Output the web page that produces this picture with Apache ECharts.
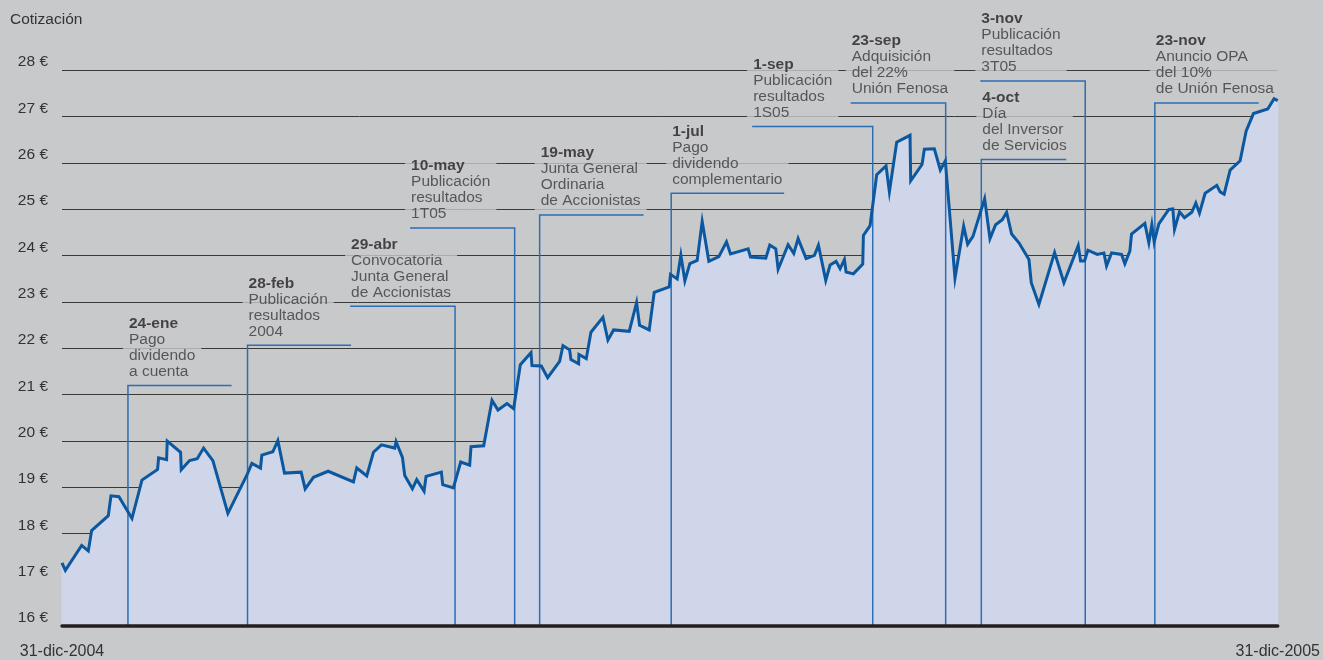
<!DOCTYPE html>
<html>
<head>
<meta charset="utf-8">
<script src="https://cdn.jsdelivr.net/npm/echarts@6/dist/echarts.min.js"></script>
<style>
html,body{margin:0;padding:0;background:#c8c9cb;}
#chart{width:1323px;height:660px;}
</style>
</head>
<body>
<div id="chart"></div>
<script>
// Day offset since 31-dic-2004 (0..365)
var days = [0,1,5.9,7.9,8.9,13.9,14.7,17.1,21.0,24.0,
28.7,29.0,31.4,31.6,35.6,35.8,38.3,40.6,42.5,45.3,
49.8,55.6,57.0,59.6,60.0,63.3,64.8,66.8,71.8,73.0,
75.5,79.9,87.5,88.5,91.5,93.5,95.9,99.9,100.3,102.2,
102.9,105.2,106.5,108.7,109.3,113.9,114.3,117.5,119.7,122.4,
122.8,126.6,129.1,130.9,133.6,135.6,137.6,140.8,141.1,143.9,
145.8,149.4,150.4,152.4,152.8,155.1,155.2,157.4,158.8,162.4,
163.9,165.6,170.3,172.5,173.4,176.3,177.8,182.3,182.7,184.7,
185.8,187.0,188.5,190.7,192.2,194.2,197.2,199.5,200.7,206.0,
206.7,211.3,212.5,214.3,215.0,218.0,219.7,221.0,223.4,225.9,
227.1,229.3,230.6,232.4,233.6,234.9,235.4,237.6,240.4,240.6,
242.6,244.6,247.4,248.4,250.6,254.6,254.8,258.2,258.9,261.9,
263.7,265.2,268.1,270.7,271.9,273.5,277.0,278.6,280.3,282.3,
283.6,285.1,287.3,290.3,291.0,293.3,298.0,300.8,305.1,305.8,
307.0,308.0,310.8,312.8,313.6,315.1,318.1,319.1,320.6,321.1,
325.1,326.3,327.2,327.9,329.3,332.3,333.5,334.0,335.5,337.0,
339.2,340.4,341.5,343.2,346.7,347.7,348.9,350.7,353.7,355.5,
357.7,362.0,363.9,365];

var prices = [17.36,17.20,17.74,17.62,18.06,18.38,18.81,18.79,18.32,19.15,
19.38,19.63,19.59,19.99,19.75,19.37,19.57,19.61,19.84,19.57,
18.43,19.27,19.51,19.41,19.69,19.76,20.00,19.30,19.32,18.96,
19.21,19.34,19.11,19.41,19.24,19.75,19.91,19.84,19.98,19.64,
19.25,18.96,19.16,18.91,19.23,19.32,19.05,18.98,19.54,19.47,
19.87,19.89,20.87,20.66,20.80,20.69,21.64,21.90,21.62,21.61,
21.36,21.71,22.05,21.96,21.75,21.66,21.86,21.77,22.34,22.66,
22.17,22.39,22.36,22.98,22.49,22.39,23.20,23.32,23.59,23.49,
24.00,23.45,23.82,23.89,24.73,23.87,23.97,24.29,24.03,24.14,
23.96,23.94,24.22,24.14,23.70,24.23,24.04,24.36,23.93,24.00,
24.22,23.46,23.79,23.87,23.71,23.91,23.64,23.60,23.81,24.43,
24.64,25.74,25.93,25.37,26.44,26.59,25.61,25.96,26.29,26.30,
25.84,26.04,23.51,24.63,24.24,24.41,25.22,24.36,24.66,24.77,
24.93,24.46,24.27,23.91,23.41,22.94,24.06,23.41,24.21,23.88,
23.88,24.11,24.02,24.05,23.77,24.05,24.02,23.82,24.09,24.46,
24.69,24.27,24.66,24.29,24.68,24.99,25.00,24.56,24.94,24.81,
24.93,25.13,24.91,25.34,25.51,25.37,25.32,25.84,26.04,26.68,
27.06,27.16,27.38,27.34];

var xTickLabels = ['31-dic-2004', '31-dic-2005'];
var yTicks = [17, 18, 19, 20, 21, 22, 23, 24, 25, 26, 27, 28];

var eventDates = ['24-ene','28-feb','29-abr','10-may','19-may','1-jul','1-sep','23-sep','4-oct','3-nov','23-nov'];
var eventDays = [19.8, 55.7, 118.0, 135.9, 143.4, 182.9, 243.4, 265.3, 276.0, 307.2, 328.1];
var eventArmEnds = [50.9, 86.8, 86.5, 104.5, 174.6, 216.8, 207.2, 236.8, 301.5, 275.7, 359.3];
var eventLevels = [21.19, 22.06, 22.90, 24.59, 24.87, 25.34, 26.78, 27.29, 26.07, 27.76, 27.29];
var eventTexts = [
  ['Pago','dividendo','a cuenta'],
  ['Publicación','resultados','2004'],
  ['Convocatoria','Junta General','de Accionistas'],
  ['Publicación','resultados','1T05'],
  ['Junta General','Ordinaria','de Accionistas'],
  ['Pago','dividendo','complementario'],
  ['Publicación','resultados','1S05'],
  ['Adquisición','del 22%','Unión Fenosa'],
  ['Día','del Inversor','de Servicios'],
  ['Publicación','resultados','3T05'],
  ['Anuncio OPA','del 10%','de Unión Fenosa']
];

var FONT = "'Liberation Sans', Arial, Helvetica, sans-serif";
var BG = '#c8c9cb';
var AREA = '#d0d6e9';

var priceData = days.map(function (d, i) { return [d, prices[i]]; });

// gridline pieces only where the price area lies below the gridline (area hides the rest)
function gridSegments(v) {
  var segs = [], start = null;
  for (var i = 0; i < days.length; i++) {
    var below = prices[i] < v;
    if (i === 0) { if (below) start = days[0]; continue; }
    var pb = prices[i - 1] < v;
    if (pb !== below) {
      var x = days[i - 1] + (v - prices[i - 1]) / (prices[i] - prices[i - 1]) * (days[i] - days[i - 1]);
      if (below) start = x; else { segs.push([start, x]); start = null; }
    }
  }
  if (start !== null) segs.push([start, 365]);
  return segs;
}

var eventLineData = eventDays.map(function (d, i) {
  return { coords: [[d, 16], [d, eventLevels[i]], [eventArmEnds[i], eventLevels[i]]] };
});

var eventLabelData = eventDays.map(function (d, i) {
  return {
    value: [Math.min(d, eventArmEnds[i]), eventLevels[i]],
    label: {
      formatter: '{b|' + eventDates[i] + '}\n' + eventTexts[i].map(function (t) { return '{n|' + t + '}'; }).join('\n')
    }
  };
});

var chart = echarts.init(document.getElementById('chart'), null, { renderer: 'canvas' });
chart.setOption({
  backgroundColor: BG,
  animation: false,
  title: {
    text: 'Cotización', left: 5, top: 7,
    textStyle: { fontFamily: FONT, fontSize: 15.5, fontWeight: 'normal', color: '#333' }
  },
  grid: { left: 62, right: 42, top: 70, bottom: 31 },
  xAxis: {
    type: 'value', min: 0, max: 365, interval: 365, z: 10,
    axisLine: { show: true, lineStyle: { color: '#231f20', width: 3.5 } },
    axisTick: { show: false },
    splitLine: { show: false }, minorSplitLine: { show: false }, splitArea: { show: false },
    axisLabel: {
      show: true, margin: 18, showMinLabel: true, showMaxLabel: true,
      fontFamily: FONT, fontSize: 16, color: '#333',
      formatter: function (v) { return v === 0 ? xTickLabels[0] : xTickLabels[1]; }
    }
  },
  yAxis: {
    type: 'value', min: 16, max: 28, interval: 1,
    axisLine: { show: false }, axisTick: { show: false },
    splitLine: { show: false, lineStyle: { color: 'rgba(0,0,0,0)', width: 0, opacity: 0 } },
    minorSplitLine: { show: false }, splitArea: { show: false },
    axisLabel: {
      margin: 14, fontFamily: FONT, fontSize: 15.5, color: '#333',
      verticalAlign: 'bottom', padding: [0, 0, 0, 0],
      formatter: '{value} €'
    }
  },
  series: [
    {
      type: 'custom', z: 1, silent: true, clip: false,
      data: priceData,
      encode: { x: 0, y: 1 },
      renderItem: function (params, api) {
        if (params.dataIndex !== 0) return null;
        var children = [];
        var pts = [api.coord([days[0], 16])];
        for (var i = 0; i < days.length; i++) pts.push(api.coord([days[i], prices[i]]));
        pts.push(api.coord([days[days.length - 1], 16]));
        children.push({ type: 'polygon', shape: { points: pts }, style: { fill: AREA, stroke: AREA, lineWidth: 1, opacity: 1 } });
        yTicks.forEach(function (v) {
          gridSegments(v).forEach(function (s) {
            var a = api.coord([s[0], v]), b = api.coord([s[1], v]);
            var y = Math.round(a[1]) + 0.5;
            children.push({ type: 'line', shape: { x1: a[0], y1: y, x2: b[0], y2: y },
              style: { stroke: '#3a3a3a', lineWidth: 1 } });
          });
        });
        return { type: 'group', children: children };
      }
    },
    {
      type: 'scatter', z: 3, clip: false, symbolSize: 0,
      data: eventLabelData, silent: true,
      label: {
        show: true, position: [-5, -5], align: 'left', verticalAlign: 'bottom',
        backgroundColor: BG, padding: [1, 6, 1, 6],
        rich: {
          b: { fontFamily: FONT, fontSize: 15.5, fontWeight: 'bold', lineHeight: 16, color: '#231f20' },
          n: { fontFamily: FONT, fontSize: 15.5, lineHeight: 16, color: '#3a3a3a' }
        }
      }
    },
    {
      type: 'lines', coordinateSystem: 'cartesian2d', polyline: true, z: 5,
      silent: true,
      lineStyle: { color: '#2d6db3', width: 1.5, opacity: 1 },
      data: eventLineData
    },
    {
      type: 'line', z: 6, data: priceData, showSymbol: false, symbol: 'none',
      lineStyle: { color: '#0b58a0', width: 3, join: 'miter' }
    }
  ]
});
</script>
</body>
</html>
